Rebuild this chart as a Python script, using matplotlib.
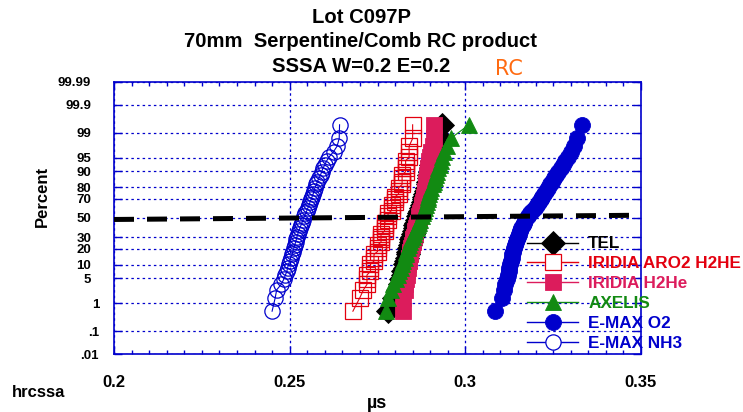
import numpy as np
import matplotlib
matplotlib.use("Agg")
import matplotlib.pyplot as plt
from matplotlib.lines import Line2D
from matplotlib.ticker import MultipleLocator, NullLocator
from statistics import NormalDist

plt.rcParams['font.family'] = ['Liberation Sans', 'DejaVu Sans']

# ---------------- data ----------------
percent = [0.55, 1.5, 2.5, 3.5, 4.7, 6.0, 7.3, 8.7, 10.3, 12.0, 14.0, 16.0,
           18.0, 20.5, 23.0, 25.5, 28.0, 30.5, 33.0, 36.0, 39.0, 42.0, 45.0, 48.0,
           52.0, 55.0, 58.0, 61.0, 64.0, 67.0, 69.5, 72.0, 74.5, 77.0, 79.5, 82.0,
           84.0, 86.0, 88.0, 89.7, 91.3, 92.7, 94.0, 95.3, 96.5, 97.5, 98.5, 99.45]

tel = [0.2781, 0.2798, 0.2808, 0.2815, 0.2818, 0.2822, 0.2824, 0.2827, 0.2829, 0.2832,
       0.2834, 0.2836, 0.2838, 0.2840, 0.2842, 0.2844, 0.2846, 0.2848, 0.2850, 0.2853,
       0.2856, 0.2858, 0.2860, 0.2863, 0.2866, 0.2868, 0.2871, 0.2873, 0.2876, 0.2879,
       0.2881, 0.2883, 0.2886, 0.2888, 0.2891, 0.2893, 0.2895, 0.2896, 0.2898, 0.2899,
       0.2901, 0.2903, 0.2904, 0.2908, 0.2913, 0.2919, 0.2929, 0.2933]

iridia_aro2 = [0.268, 0.270, 0.271, 0.272, 0.272, 0.272, 0.273, 0.273, 0.273, 0.274,
               0.274, 0.274, 0.275, 0.275, 0.275, 0.276, 0.276, 0.276, 0.276, 0.277,
               0.277, 0.277, 0.277, 0.278, 0.278, 0.278, 0.279, 0.279, 0.279, 0.280,
               0.280, 0.280, 0.281, 0.281, 0.281, 0.282, 0.282, 0.282, 0.282, 0.283,
               0.283, 0.283, 0.283, 0.284, 0.284, 0.284, 0.285, 0.285]

iridia_h2he = [0.2822, 0.2824, 0.2827, 0.2829, 0.2831, 0.2833, 0.2835, 0.2836, 0.2838, 0.2839,
               0.2840, 0.2842, 0.2843, 0.2845, 0.2847, 0.2850, 0.2852, 0.2854, 0.2856, 0.2858,
               0.2860, 0.2862, 0.2865, 0.2867, 0.2869, 0.2871, 0.2873, 0.2876, 0.2878, 0.2880,
               0.2882, 0.2883, 0.2884, 0.2885, 0.2887, 0.2888, 0.2889, 0.2891, 0.2892, 0.2894,
               0.2895, 0.2896, 0.2898, 0.2900, 0.2903, 0.2907, 0.2912, 0.2912]

axelis = [0.2773, 0.2781, 0.2788, 0.2795, 0.2802, 0.2808, 0.2812, 0.2816, 0.2820, 0.2823,
          0.2827, 0.2830, 0.2832, 0.2836, 0.2839, 0.2842, 0.2846, 0.2850, 0.2854, 0.2858,
          0.2862, 0.2866, 0.2869, 0.2872, 0.2877, 0.2880, 0.2883, 0.2885, 0.2888, 0.2890,
          0.2893, 0.2895, 0.2897, 0.2900, 0.2903, 0.2907, 0.2910, 0.2913, 0.2917, 0.2920,
          0.2923, 0.2927, 0.2930, 0.2934, 0.2938, 0.2947, 0.2958, 0.3010]

emax_o2 = [0.3084, 0.3103, 0.3109, 0.3114, 0.3118, 0.3121, 0.3123, 0.3125, 0.3126, 0.3129,
           0.3132, 0.3134, 0.3136, 0.3138, 0.3141, 0.3144, 0.3147, 0.3149, 0.3152, 0.3155,
           0.3159, 0.3163, 0.3167, 0.3171, 0.3178, 0.3185, 0.3191, 0.3198, 0.3205, 0.3210,
           0.3215, 0.3219, 0.3225, 0.3230, 0.3235, 0.3241, 0.3246, 0.3252, 0.3258, 0.3265,
           0.3272, 0.3278, 0.3284, 0.3292, 0.3300, 0.3308, 0.3319, 0.3333]

emax_nh3 = [0.2450, 0.2459, 0.2463, 0.2476, 0.2483, 0.2488, 0.2492, 0.2494, 0.2497, 0.2500,
            0.2503, 0.2507, 0.2509, 0.2512, 0.2514, 0.2517, 0.2519, 0.2521, 0.2523, 0.2526,
            0.2529, 0.2532, 0.2535, 0.2538, 0.2542, 0.2545, 0.2549, 0.2552, 0.2556, 0.2558,
            0.2561, 0.2564, 0.2567, 0.2569, 0.2572, 0.2576, 0.2579, 0.2583, 0.2588, 0.2591,
            0.2595, 0.2600, 0.2605, 0.2613, 0.2625, 0.2635, 0.2641, 0.2642]

median_x = [0.2, 0.35]
median_pct = [48.4, 53.0]

series_names = ['TEL', 'IRIDIA ARO2 H2HE', 'IRIDIA H2He', 'AXELIS', 'E-MAX O2', 'E-MAX NH3']
x_ticks = [0.2, 0.25, 0.3, 0.35]
x_tick_labels = ['0.2', '0.25', '0.3', '0.35']
pct_ticks = [0.01, 0.1, 1, 5, 10, 20, 30, 50, 70, 80, 90, 95, 99, 99.9, 99.99]
pct_tick_labels = ['.01', '.1', '1', '5', '10', '20', '30', '50', '70', '80', '90',
                   '95', '99', '99.9', '99.99']
title_lines = ['Lot C097P', '70mm  Serpentine/Comb RC product', 'SSSA W=0.2 E=0.2']

# ---------------- styles ----------------
BLUE = '#0000CC'
styles = [
    dict(color='black', marker='D', ms=12, hollow=False),
    dict(color='#E3000F', marker='s', ms=11.5, hollow=True),
    dict(color='#DC1C5C', marker='s', ms=11.5, hollow=False),
    dict(color='#128A12', marker='^', ms=11.5, hollow=False),
    dict(color='#0000CC', marker='o', ms=11.5, hollow=False),
    dict(color='#0000CC', marker='o', ms=11, hollow=True),
]
data = [tel, iridia_aro2, iridia_h2he, axelis, emax_o2, emax_nh3]

# ---------------- probability scale ----------------
_nd = NormalDist()
_ppf = np.vectorize(_nd.inv_cdf, otypes=[float])
_cdf = np.vectorize(_nd.cdf, otypes=[float])


def fwd(p):
    p = np.clip(np.asarray(p, dtype=float), 1e-7, 100 - 1e-7)
    return _ppf(p / 100.0)


def inv(z):
    return _cdf(np.asarray(z, dtype=float)) * 100.0


fig = plt.figure(figsize=(7.43, 4.12), dpi=100)
ax = fig.add_axes([114 / 743, 1 - 354.3 / 412, (641 - 114) / 743, (354.3 - 81.7) / 412])
ax.set_yscale('function', functions=(fwd, inv))

handles = []
for vals, st, name in zip(data, styles, series_names):
    c = st['color']
    mfc = 'none' if st['hollow'] else c
    mew = 0.9 if st['hollow'] else 0.6
    ax.plot(vals, percent, color=c, lw=0.8, marker=st['marker'], ms=st['ms'],
            mfc=mfc, mec=c, mew=mew)
    handles.append(Line2D([], [], color=c, lw=1.0, marker=st['marker'], ms=st['ms'],
                          mfc='white' if st['hollow'] else c, mec=c, mew=mew))

ax.plot(median_x, median_pct, color='black', lw=3.6, ls=(0, (4, 2.6)), zorder=6)

ax.set_xlim(0.2, 0.35)
ax.set_ylim(0.01, 99.99)

ax.set_xticks(x_ticks, labels=x_tick_labels)
ax.xaxis.set_minor_locator(MultipleLocator(0.005))
ax.set_yticks(pct_ticks, labels=pct_tick_labels)
ax.yaxis.set_minor_locator(NullLocator())

ax.tick_params(axis='x', which='both', direction='in', top=True, bottom=True,
               color=BLUE, width=1.0, labelsize=12, pad=15)
ax.tick_params(axis='x', which='major', length=6)
ax.tick_params(axis='x', which='minor', length=3)
ax.tick_params(axis='y', which='major', direction='in', left=True, right=True,
               color=BLUE, width=1.0, length=6, labelsize=9.5, pad=16.5)
for lab in ax.get_xticklabels() + ax.get_yticklabels():
    lab.set_fontweight('bold')
for t in ax.yaxis.get_major_ticks()[:3]:
    t.label1.set_x(8 / 527)

for s in ax.spines.values():
    s.set_color(BLUE)
    s.set_linewidth(1.2)

ax.set_axisbelow(True)
ax.grid(True, which='major', color=BLUE, lw=0.9, ls=(0, (2, 2.5)))

ax.set_ylabel('Percent', fontsize=12, fontweight='bold', va='center')
ax.yaxis.set_label_coords(-(114 - 42.5) / 527, (354.3 - 196.3) / 272.6)
ax.set_xlabel('µs', fontsize=13, fontweight='bold', va='center')
ax.xaxis.set_label_coords((377 - 114) / 527, -(403 - 354.3) / 272.6)

baselines = [22.7, 46.7, 71.7]
for line, yb in zip(title_lines, baselines):
    fig.text(361 / 743, 1 - yb / 412, line, ha='center', va='baseline',
             fontsize=14.6, fontweight='bold')
fig.text(495 / 743, 1 - 75 / 412, 'RC', ha='left', va='baseline', fontsize=15,
         color='#FF6A10', family=['DejaVu Sans'])
fig.text(12 / 743, 1 - 397 / 412, 'hrcssa', ha='left', va='baseline',
         fontsize=12, fontweight='bold')

fig.legend(handles, series_names, loc='upper left',
           bbox_to_anchor=(527 / 743, 1 - 236.5 / 412), frameon=False,
           prop={'weight': 'bold', 'size': 12.3}, handlelength=3.0,
           handletextpad=0.58, labelspacing=0.29, borderpad=0, borderaxespad=0,
           labelcolor=[st['color'] for st in styles])

fig.savefig('out.png', dpi=100)
